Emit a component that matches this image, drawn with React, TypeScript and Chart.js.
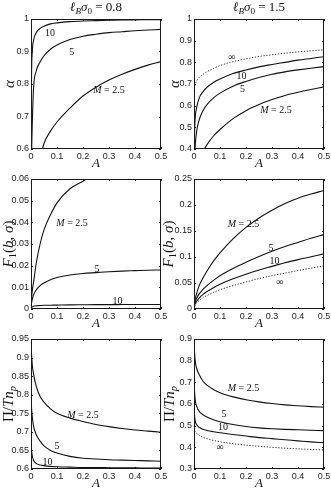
import React, { useEffect, useRef } from "react";
import { Chart, registerables } from "chart.js";
Chart.register(...registerables);

// ---------- data ----------
const A_GRID = [0, 0.001, 0.002, 0.005, 0.01, 0.02, 0.035, 0.05, 0.075, 0.1, 0.15, 0.2, 0.25, 0.3, 0.35, 0.4, 0.45, 0.5];
const X_TICKS = [0, 0.1, 0.2, 0.3, 0.4, 0.5];
const X_TICK_LABELS = ["0", "0.1", "0.2", "0.3", "0.4", "0.5"];

// panel 1: alpha, l_B sigma_0 = 0.8
const P1_M10 = [0.45, 0.70, 0.82, 0.90, 0.935, 0.958, 0.971, 0.978, 0.985, 0.988, 0.992, 0.994, 0.995, 0.996, 0.997, 0.997, 0.998, 0.998];
const P1_M5 = [0.35, 0.5, 0.57, 0.68, 0.79, 0.84, 0.868, 0.887, 0.907, 0.92, 0.937, 0.947, 0.953, 0.958, 0.961, 0.964, 0.966, 0.968];
const P1_M25 = [null, null, null, null, null, null, 0.57, 0.617, 0.655, 0.683, 0.726, 0.763, 0.79, 0.812, 0.83, 0.845, 0.858, 0.869];
const P1_Y_TICKS = [0.6, 0.7, 0.8, 0.9, 1];
const P1_Y_LABELS = ["0.6", "0.7", "0.8", "0.9", "1"];

// panel 2: alpha, l_B sigma_0 = 1.5
const P2_INF = [0.665, 0.678, 0.687, 0.70, 0.715, 0.73, 0.745, 0.757, 0.772, 0.785, 0.803, 0.816, 0.827, 0.835, 0.842, 0.848, 0.853, 0.858];
const P2_M10 = [0.3, 0.40, 0.47, 0.55, 0.59, 0.635, 0.665, 0.685, 0.707, 0.723, 0.748, 0.765, 0.779, 0.79, 0.80, 0.81, 0.818, 0.826];
const P2_M5 = [0.2, 0.28, 0.34, 0.42, 0.48, 0.535, 0.578, 0.605, 0.636, 0.658, 0.69, 0.712, 0.73, 0.745, 0.756, 0.765, 0.773, 0.78];
const P2_M25 = [null, null, null, null, null, null, 0.39, 0.42, 0.46, 0.49, 0.54, 0.577, 0.605, 0.628, 0.647, 0.662, 0.675, 0.687];
const P2_Y_TICKS = [0.4, 0.5, 0.6, 0.7, 0.8, 0.9, 1];
const P2_Y_LABELS = ["0.4", "0.5", "0.6", "0.7", "0.8", "0.9", "1"];

// panel 3: F1, 0.8
const P3_M25 = [0, 0.0035, 0.005, 0.0085, 0.0125, 0.021, 0.03, 0.0365, 0.0435, 0.049, 0.0555, 0.059, 0.0625, 0.0655, null, null, null, null];
const P3_M5 = [0, 0.0018, 0.0027, 0.0045, 0.0065, 0.0088, 0.0108, 0.012, 0.0135, 0.0145, 0.0157, 0.0164, 0.0168, 0.0172, 0.0175, 0.0177, 0.0179, 0.018];
const P3_M10 = [0, 0.0004, 0.0007, 0.001, 0.0013, 0.0015, 0.0016, 0.0017, 0.00175, 0.0018, 0.0019, 0.00195, 0.002, 0.002, 0.00205, 0.0021, 0.0021, 0.0021];
const P3_Y_TICKS = [0, 0.01, 0.02, 0.03, 0.04, 0.05, 0.06];
const P3_Y_LABELS = ["0", "0.01", "0.02", "0.03", "0.04", "0.05", "0.06"];

// panel 4: F1, 1.5
const P4_M25 = [0, 0.009, 0.013, 0.02, 0.03, 0.045, 0.06, 0.073, 0.092, 0.108, 0.135, 0.157, 0.175, 0.19, 0.203, 0.213, 0.221, 0.228];
const P4_M5 = [0, 0.006, 0.009, 0.014, 0.02, 0.029, 0.038, 0.045, 0.055, 0.064, 0.078, 0.09, 0.101, 0.111, 0.12, 0.128, 0.136, 0.143];
const P4_M10 = [0, 0.005, 0.007, 0.011, 0.015, 0.021, 0.028, 0.0335, 0.041, 0.0475, 0.058, 0.067, 0.075, 0.082, 0.089, 0.095, 0.1005, 0.106];
const P4_INF = [0, 0.0037, 0.0052, 0.008, 0.0117, 0.0165, 0.022, 0.026, 0.032, 0.037, 0.045, 0.052, 0.0585, 0.064, 0.069, 0.074, 0.0785, 0.083];
const P4_Y_TICKS = [0, 0.05, 0.1, 0.15, 0.2, 0.25];
const P4_Y_LABELS = ["0", "0.05", "0.1", "0.15", "0.2", "0.25"];

// panel 5: Pi/Tn_p, 0.8
const P5_M25 = [0.935, 0.92, 0.91, 0.88, 0.855, 0.823, 0.795, 0.78, 0.762, 0.75, 0.737, 0.728, 0.72, 0.714, 0.709, 0.705, 0.702, 0.699];
const P5_M5 = [0.80, 0.78, 0.765, 0.74, 0.715, 0.693, 0.675, 0.662, 0.65, 0.643, 0.634, 0.629, 0.627, 0.625, 0.624, 0.623, 0.622, 0.621];
const P5_M10 = [0.68, 0.665, 0.652, 0.635, 0.623, 0.615, 0.611, 0.609, 0.607, 0.606, 0.605, 0.604, 0.604, 0.6035, 0.603, 0.603, 0.6025, 0.6025];
const P5_Y_TICKS = [0.6, 0.65, 0.7, 0.75, 0.8, 0.85, 0.9, 0.95];
const P5_Y_LABELS = ["0.6", "0.65", "0.7", "0.75", "0.8", "0.85", "0.9", "0.95"];

// panel 6: Pi/Tn_p, 1.5
const P6_M25 = [0.9, 0.87, 0.84, 0.795, 0.765, 0.735, 0.705, 0.687, 0.667, 0.652, 0.633, 0.62, 0.61, 0.602, 0.596, 0.592, 0.588, 0.585];
const P6_M5 = [0.75, 0.69, 0.66, 0.615, 0.59, 0.566, 0.55, 0.54, 0.527, 0.518, 0.505, 0.496, 0.49, 0.486, 0.483, 0.481, 0.479, 0.477];
const P6_M10 = [0.63, 0.58, 0.55, 0.52, 0.505, 0.492, 0.483, 0.478, 0.472, 0.467, 0.459, 0.452, 0.445, 0.44, 0.435, 0.43, 0.425, 0.421];
const P6_INF = [0.49, 0.485, 0.48, 0.472, 0.465, 0.455, 0.446, 0.44, 0.432, 0.426, 0.417, 0.41, 0.405, 0.4, 0.396, 0.393, 0.39, 0.388];
const P6_Y_TICKS = [0.3, 0.4, 0.5, 0.6, 0.7, 0.8, 0.9];
const P6_Y_LABELS = ["0.3", "0.4", "0.5", "0.6", "0.7", "0.8", "0.9"];

// ---------- text helpers ----------
type Seg = { t: string; i?: boolean; sub?: boolean };
const SERIF = '"Liberation Serif", "DejaVu Serif", "Times New Roman", serif';
const SANS = '"Liberation Sans", Arial, Helvetica, sans-serif';
const INK = "#111";

const M_LABEL: Seg[] = [{ t: "M", i: true }, { t: " = 2.5" }];
const L10: Seg[] = [{ t: "10" }];
const L5: Seg[] = [{ t: "5" }];
const LINF: Seg[] = [{ t: "∞" }];
const ALPHA_TITLE: Seg[] = [{ t: "α", i: true }];
const F1_TITLE: Seg[] = [{ t: "F", i: true }, { t: "1", sub: true }, { t: "(" }, { t: "b", i: true }, { t: ", " }, { t: "σ", i: true }, { t: ")" }];
const PI_TITLE: Seg[] = [{ t: "Π/" }, { t: "Tn", i: true }, { t: "p", i: true, sub: true }];
const title = (v: string): Seg[] => [{ t: "ℓ", i: true }, { t: "B", i: true, sub: true }, { t: "σ", i: true }, { t: "0", sub: true }, { t: " = " + v }];

function drawRich(ctx: CanvasRenderingContext2D, segs: Seg[], x: number, y: number, size: number, rotate = false) {
  ctx.save();
  ctx.translate(x, y);
  if (rotate) ctx.rotate(-Math.PI / 2);
  const font = (s: Seg) => `${s.i ? "italic " : ""}${s.sub ? size * 0.7 : size}px ${SERIF}`;
  let w = 0;
  for (const s of segs) { ctx.font = font(s); w += ctx.measureText(s.t).width; }
  let cx = -w / 2;
  ctx.textAlign = "left";
  ctx.textBaseline = "alphabetic";
  ctx.fillStyle = INK;
  for (const s of segs) {
    ctx.font = font(s);
    ctx.fillText(s.t, cx, s.sub ? size * 0.22 : 0);
    cx += ctx.measureText(s.t).width;
  }
  ctx.restore();
}

// ---------- panels ----------
type Series = { values: (number | null)[]; dashed?: boolean };
type CurveLabel = { segs: Seg[]; a: number; v: number };
type Panel = {
  left: number; top: number; width: number; height: number;
  yAxisWidth: number; padRight: number;
  yMin: number; yMax: number; yTicks: number[]; yLabels: string[];
  series: Series[]; labels: CurveLabel[];
  title?: Seg[]; yTitle: Seg[]; yTitleX: number;
};

const LEFT = { left: 0, width: 172, yAxisWidth: 31, padRight: 11 };
const RIGHT = { left: 160, width: 171, yAxisWidth: 34, padRight: 7 };

const PANELS: Panel[] = [
  {
    ...LEFT, top: 0, height: 170, yMin: 0.6, yMax: 1, yTicks: P1_Y_TICKS, yLabels: P1_Y_LABELS,
    series: [{ values: P1_M10 }, { values: P1_M5 }, { values: P1_M25 }],
    labels: [{ segs: L10, a: 0.073, v: 0.957 }, { segs: L5, a: 0.157, v: 0.9 }, { segs: M_LABEL, a: 0.3, v: 0.782 }],
    title: title("0.8"), yTitle: ALPHA_TITLE, yTitleX: 14,
  },
  {
    ...RIGHT, top: 0, height: 170, yMin: 0.4, yMax: 1, yTicks: P2_Y_TICKS, yLabels: P2_Y_LABELS,
    series: [{ values: P2_INF, dashed: true }, { values: P2_M10 }, { values: P2_M5 }, { values: P2_M25 }],
    labels: [{ segs: LINF, a: 0.145, v: 0.826 }, { segs: L10, a: 0.183, v: 0.737 }, { segs: L5, a: 0.187, v: 0.68 }, { segs: M_LABEL, a: 0.315, v: 0.58 }],
    title: title("1.5"), yTitle: ALPHA_TITLE, yTitleX: 19,
  },
  {
    ...LEFT, top: 160, height: 170, yMin: 0, yMax: 0.06, yTicks: P3_Y_TICKS, yLabels: P3_Y_LABELS,
    series: [{ values: P3_M25 }, { values: P3_M5 }, { values: P3_M10 }],
    labels: [{ segs: M_LABEL, a: 0.158, v: 0.040 }, { segs: L5, a: 0.254, v: 0.0185 }, { segs: L10, a: 0.333, v: 0.0037 }],
    yTitle: F1_TITLE, yTitleX: 13,
  },
  {
    ...RIGHT, top: 160, height: 170, yMin: 0, yMax: 0.25, yTicks: P4_Y_TICKS, yLabels: P4_Y_LABELS,
    series: [{ values: P4_M25 }, { values: P4_M5 }, { values: P4_M10 }, { values: P4_INF, dashed: true }],
    labels: [{ segs: M_LABEL, a: 0.19, v: 0.165 }, { segs: L5, a: 0.296, v: 0.119 }, { segs: L10, a: 0.31, v: 0.094 }, { segs: LINF, a: 0.33, v: 0.052 }],
    yTitle: F1_TITLE, yTitleX: 13,
  },
  {
    ...LEFT, top: 320, height: 170, yMin: 0.6, yMax: 0.95, yTicks: P5_Y_TICKS, yLabels: P5_Y_LABELS,
    series: [{ values: P5_M25 }, { values: P5_M5 }, { values: P5_M10 }],
    labels: [{ segs: M_LABEL, a: 0.2, v: 0.747 }, { segs: L5, a: 0.1, v: 0.662 }, { segs: L10, a: 0.063, v: 0.62 }],
    yTitle: PI_TITLE, yTitleX: 12.5,
  },
  {
    ...RIGHT, top: 320, height: 170, yMin: 0.3, yMax: 0.9, yTicks: P6_Y_TICKS, yLabels: P6_Y_LABELS,
    series: [{ values: P6_M25 }, { values: P6_M5 }, { values: P6_M10 }, { values: P6_INF, dashed: true }],
    labels: [{ segs: M_LABEL, a: 0.19, v: 0.674 }, { segs: L5, a: 0.115, v: 0.555 }, { segs: L10, a: 0.112, v: 0.498 }, { segs: LINF, a: 0.1, v: 0.405 }],
    yTitle: PI_TITLE, yTitleX: 14,
  },
];

const PAD_TOP = 19;
const X_AXIS_HEIGHT = 21;
const TICK_LEN = 2;

function labelFor(ticks: number[], labels: string[], v: number) {
  const i = ticks.findIndex((t) => Math.abs(t - v) < 1e-9);
  return i >= 0 ? labels[i] : "";
}

function PanelChart({ p }: { p: Panel }) {
  const ref = useRef<HTMLCanvasElement>(null);
  useEffect(() => {
    if (!ref.current) return;
    const decor = {
      id: "decor",
      afterDatasetsDraw(chart: any) {
        const ctx: CanvasRenderingContext2D = chart.ctx;
        const { left, right, top, bottom } = chart.chartArea;
        const xs = chart.scales.x, ys = chart.scales.y;
        ctx.save();
        ctx.strokeStyle = "#1a1a1a";
        ctx.lineWidth = 1;
        ctx.beginPath();
        for (const v of X_TICKS) {
          const px = Math.round(xs.getPixelForValue(v)) + 0.5;
          ctx.moveTo(px, bottom); ctx.lineTo(px, bottom - TICK_LEN);
          ctx.moveTo(px, top); ctx.lineTo(px, top + TICK_LEN);
        }
        for (const v of p.yTicks) {
          const py = Math.round(ys.getPixelForValue(v)) + 0.5;
          ctx.moveTo(left, py); ctx.lineTo(left + TICK_LEN, py);
          ctx.moveTo(right, py); ctx.lineTo(right - TICK_LEN, py);
        }
        ctx.stroke();
        ctx.strokeRect(Math.round(left) + 0.5, Math.round(top) + 0.5, Math.round(right - left) - 1, Math.round(bottom - top) - 1);
        ctx.restore();
        for (const l of p.labels) {
          drawRich(ctx, l.segs, xs.getPixelForValue(l.a), ys.getPixelForValue(l.v) + 3.4, 10);
        }
        if (p.title) drawRich(ctx, p.title, (left + right) / 2, 11, 13);
        drawRich(ctx, p.yTitle, p.yTitleX, (top + bottom) / 2, 15, true);
      },
    };
    const chart = new Chart(ref.current, {
      type: "line",
      data: {
        labels: A_GRID,
        datasets: p.series.map((s) => ({
          data: s.values.map((v, i) => ({ x: A_GRID[i], y: v })),
          borderColor: s.dashed ? "#333" : INK,
          borderWidth: s.dashed ? 1 : 1.1,
          borderDash: s.dashed ? [1.3, 1.6] : [],
          pointRadius: 0,
          fill: false,
          cubicInterpolationMode: "monotone",
          spanGaps: false,
        })),
      },
      options: {
        animation: false,
        responsive: false,
        maintainAspectRatio: false,
        events: [],
        layout: { padding: { left: 0, top: PAD_TOP, right: p.padRight, bottom: 0 } },
        plugins: { legend: { display: false }, tooltip: { enabled: false }, title: { display: false } },
        scales: {
          x: {
            type: "linear", min: 0, max: 0.5,
            afterBuildTicks: (s: any) => { s.ticks = X_TICKS.map((v) => ({ value: v })); },
            afterFit: (s: any) => { s.height = X_AXIS_HEIGHT; s.paddingLeft = 0; s.paddingRight = 0; },
            ticks: {
              callback: (v: any) => labelFor(X_TICKS, X_TICK_LABELS, Number(v)),
              font: { family: SANS, size: 9 }, color: "#222", padding: 2, maxRotation: 0, autoSkip: false,
            },
            grid: { display: false, drawTicks: false, tickLength: 0 },
            border: { display: false },
            title: { display: true, text: "A", color: INK, padding: 0, font: { family: SERIF, size: 13, style: "italic", lineHeight: 1 } },
          },
          y: {
            type: "linear", min: p.yMin, max: p.yMax,
            afterBuildTicks: (s: any) => { s.ticks = p.yTicks.map((v) => ({ value: v })); },
            afterFit: (s: any) => { s.width = p.yAxisWidth; s.paddingTop = 0; s.paddingBottom = 0; },
            ticks: {
              callback: (v: any) => labelFor(p.yTicks, p.yLabels, Number(v)),
              font: { family: SANS, size: 9 }, color: "#222", padding: 2, autoSkip: false,
            },
            grid: { display: false, drawTicks: false, tickLength: 0 },
            border: { display: false },
            title: { display: false },
          },
        },
      },
      plugins: [decor],
    } as any);
    return () => chart.destroy();
  }, [p]);
  return (
    <canvas
      ref={ref}
      width={p.width}
      height={p.height}
      style={{ position: "absolute", left: p.left, top: p.top, width: p.width, height: p.height }}
    />
  );
}

export default function App() {
  return (
    <div style={{ position: "absolute", left: 0, top: 0, width: 331, height: 490, background: "#fff", overflow: "hidden" }}>
      {PANELS.map((p, i) => (
        <PanelChart key={i} p={p} />
      ))}
    </div>
  );
}
